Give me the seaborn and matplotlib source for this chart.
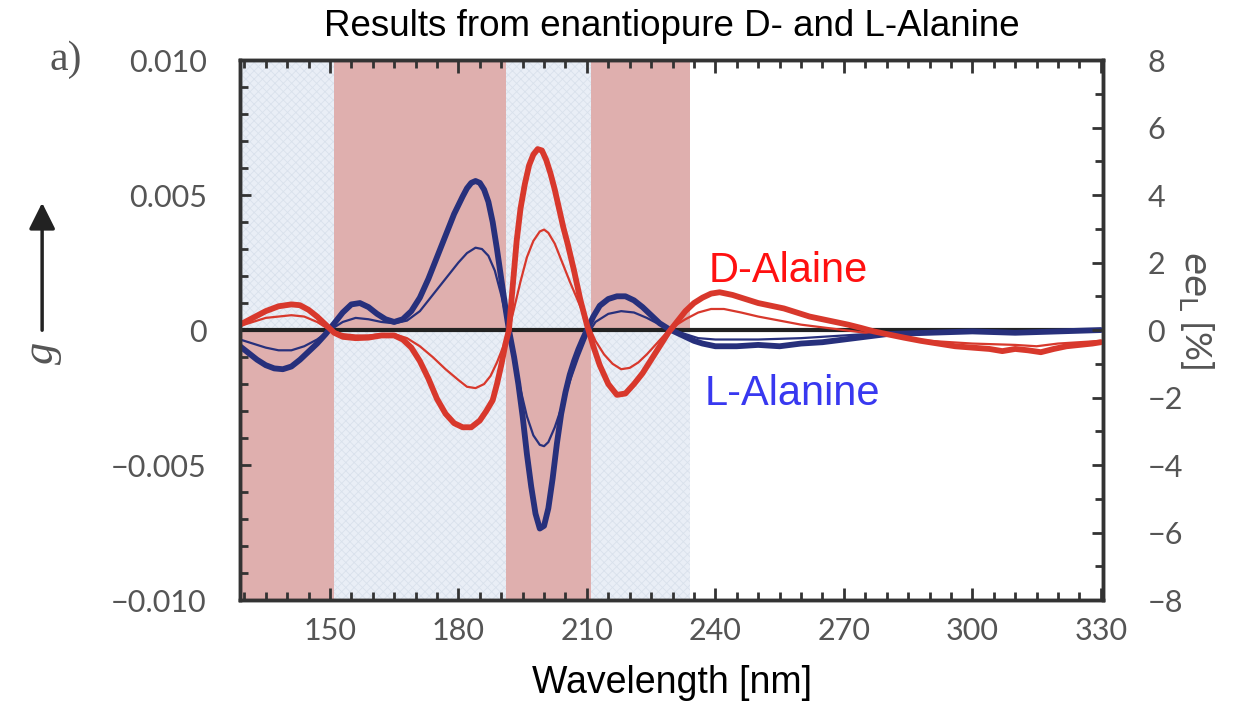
import numpy as np
import pandas as pd
import matplotlib
matplotlib.use("Agg")
import matplotlib.pyplot as plt
from matplotlib.ticker import MultipleLocator, FuncFormatter, FixedLocator
import seaborn as sns

# ---------------- data (g in units of 1e-3) ----------------
wl_L_thick = [129, 131, 133, 135, 137, 139, 141, 143, 145, 147, 149, 151, 153, 155, 157, 159, 161, 163, 165,
              167, 169, 171, 173, 175, 177, 179, 181, 182, 183, 184, 185, 186, 187, 188, 189, 190, 191,
              191.8, 193, 194, 195, 196, 197, 198, 199, 200, 201, 202, 203, 204, 205, 206, 207, 208, 209,
              210, 211.5, 213, 215, 217, 219, 221, 223, 225, 227, 229, 231, 233, 235, 237, 240, 245, 250,
              255, 260, 265, 270, 275, 280, 290, 300, 310, 320, 330]
g_L_thick = [-0.6, -0.85, -1.1, -1.3, -1.42, -1.45, -1.35, -1.1, -0.8, -0.5, -0.15, 0.25, 0.65, 0.95, 1.0,
             0.85, 0.6, 0.4, 0.3, 0.4, 0.7, 1.2, 1.9, 2.7, 3.5, 4.3, 4.95, 5.25, 5.45, 5.52, 5.45, 5.2, 4.75,
             4.0, 3.0, 1.9, 0.8, 0.0, -1.0, -2.0, -3.2, -4.6, -5.8, -6.8, -7.35, -7.25, -6.6, -5.5, -4.2, -3.1,
             -2.3, -1.65, -1.15, -0.72, -0.35, 0.0, 0.5, 0.9, 1.15, 1.25, 1.25, 1.1, 0.85, 0.55, 0.25, 0.05,
             -0.1, -0.25, -0.4, -0.5, -0.6, -0.6, -0.55, -0.6, -0.5, -0.45, -0.35, -0.25, -0.15, -0.1, -0.05,
             -0.1, -0.05, 0.0]

wl_D_thick = [129, 132, 135, 138, 141, 143, 145, 147, 149, 151, 153, 156, 159, 162, 165, 167, 169, 171, 173,
              175, 177, 179, 181, 183, 185, 186.5, 188, 189, 190, 191, 191.8, 192.5, 193.6, 194.5, 195.5,
              196.5, 197.5, 198.5, 199.5, 200.5, 201.5, 202.5, 203.5, 204.5, 205.5, 207, 208.5, 210, 211.5,
              213, 215, 217, 219, 221, 223, 225, 227, 229, 231, 233, 235, 237, 239, 241, 244, 247, 250, 253,
              256, 259, 262, 265, 268, 271, 274, 277, 280, 284, 288, 292, 296, 300, 304, 307, 310, 313, 316,
              319, 322, 325, 328, 330]
g_D_thick = [0.2, 0.45, 0.7, 0.88, 0.95, 0.92, 0.75, 0.5, 0.2, -0.1, -0.25, -0.3, -0.28, -0.2, -0.2, -0.35,
             -0.65, -1.15, -1.8, -2.55, -3.1, -3.45, -3.6, -3.6, -3.35, -3.0, -2.6, -2.0, -1.3, -0.5, 0.0,
             1.3, 3.3, 4.5, 5.4, 6.1, 6.5, 6.7, 6.65, 6.3, 5.8, 5.2, 4.5, 3.8, 3.2, 2.2, 1.1, 0.2, -0.6, -1.3,
             -2.0, -2.4, -2.35, -2.0, -1.6, -1.1, -0.6, -0.1, 0.3, 0.7, 1.0, 1.2, 1.35, 1.4, 1.3, 1.15, 1.0,
             0.9, 0.8, 0.65, 0.5, 0.4, 0.3, 0.2, 0.08, -0.05, -0.15, -0.28, -0.4, -0.5, -0.6, -0.65, -0.7,
             -0.78, -0.7, -0.75, -0.82, -0.7, -0.6, -0.55, -0.5, -0.45]

wl_L_thin = [129, 132, 135, 138, 141, 144, 147, 150, 153, 156, 159, 162, 165, 168, 171, 174, 177, 180, 182,
             184, 185.5, 187, 188.5, 190, 191.8, 193, 194.5, 196, 197.5, 199, 200, 201, 202.5, 204, 206, 208,
             210, 212, 215, 218, 221, 224, 227, 230, 233, 236, 240, 250, 260, 270, 280, 290, 300, 315, 330]
g_L_thin = [-0.35, -0.5, -0.65, -0.75, -0.75, -0.6, -0.35, 0.0, 0.3, 0.45, 0.4, 0.3, 0.25, 0.35, 0.7, 1.3,
            1.9, 2.5, 2.85, 3.05, 3.0, 2.75, 2.2, 1.3, 0.0, -1.0, -2.2, -3.2, -3.9, -4.25, -4.3, -4.15, -3.6,
            -2.9, -1.9, -1.0, -0.2, 0.3, 0.6, 0.7, 0.65, 0.45, 0.2, 0.0, -0.15, -0.3, -0.35, -0.35, -0.3,
            -0.2, -0.1, -0.05, -0.05, -0.05, 0.0]

wl_D_thin = [129, 132, 135, 138, 141, 144, 147, 150, 153, 156, 159, 162, 165, 168, 171, 174, 177, 180, 182,
             184, 186, 187.5, 189, 190.5, 191.8, 193, 194.5, 196, 197.5, 199, 200, 201, 202.5, 204, 206, 208,
             210, 212, 214, 216, 218, 220, 222, 224, 226, 228, 230, 233, 236, 239, 242, 246, 250, 255, 260,
             265, 270, 275, 280, 290, 300, 310, 315, 320, 325, 330]
g_D_thin = [0.15, 0.3, 0.45, 0.5, 0.55, 0.5, 0.3, 0.0, -0.15, -0.2, -0.2, -0.15, -0.15, -0.3, -0.6, -1.0,
            -1.45, -1.85, -2.1, -2.15, -2.0, -1.7, -1.2, -0.6, 0.0, 0.8, 1.8, 2.7, 3.3, 3.65, 3.72, 3.6, 3.2,
            2.6, 1.8, 1.05, 0.3, -0.4, -0.9, -1.25, -1.45, -1.4, -1.2, -0.9, -0.55, -0.2, 0.1, 0.4, 0.65, 0.78,
            0.78, 0.65, 0.5, 0.35, 0.2, 0.1, 0.0, -0.1, -0.2, -0.4, -0.5, -0.55, -0.6, -0.5, -0.45, -0.4]

band_edges = [129, 151, 191, 211, 234]
band_upper_colors = ["lightblue", "pink", "lightblue", "pink"]   # above g = 0
band_lower_colors = ["pink", "lightblue", "pink", "lightblue"]   # below g = 0

x_tick_labels = [150, 180, 210, 240, 270, 300, 330]
right_ticks = [-8, -6, -4, -2, 0, 2, 4, 6, 8]

# ---------------- style ----------------
sns.set_theme(style="white")
plt.rcParams['font.family'] = ['Lato', 'DejaVu Sans']
plt.rcParams['hatch.linewidth'] = 0.6

PINK = "#dfafae"
LBLUE = "#e9eef6"
NAVY = "#27307c"
RED = "#d8382c"
GRAY = "#555555"

fig = plt.figure(figsize=(12.39, 7.06), dpi=100)
ax = fig.add_axes([0.1937, 0.150, 0.8902 - 0.1937, 0.915 - 0.150])
ax.set_xlim(129, 330.5)
ax.set_ylim(-0.010, 0.010)

# bands
for i in range(len(band_edges) - 1):
    x0, x1 = band_edges[i], band_edges[i + 1]
    for col, (y0, y1) in ((band_upper_colors[i], (0, 0.010)), (band_lower_colors[i], (-0.010, 0))):
        if col == "pink":
            ax.fill_between([x0, x1], y0, y1, color=PINK, lw=0, zorder=0)
        else:
            ax.fill_between([x0, x1], y0, y1, facecolor=LBLUE, edgecolor="#d9e1ec",
                            hatch="xxxx", lw=0, zorder=0)

ax.axhline(0, color="#222222", lw=3, zorder=2)

def draw(wl, g, color, lw):
    df = pd.DataFrame({"wl": wl, "g": np.array(g) * 1e-3})
    sns.lineplot(data=df, x="wl", y="g", ax=ax, color=color, lw=lw, zorder=3,
                 estimator=None, sort=False, solid_joinstyle="round", solid_capstyle="round")

draw(wl_L_thin, g_L_thin, NAVY, 1.6)
draw(wl_D_thin, g_D_thin, RED, 1.6)
draw(wl_L_thick, g_L_thick, NAVY, 4.2)
draw(wl_D_thick, g_D_thick, RED, 4.2)

ax.set_xlabel("")
ax.set_ylabel("")

# ticks
ax.xaxis.set_major_locator(FixedLocator(x_tick_labels))
ax.xaxis.set_minor_locator(MultipleLocator(5))
ax.yaxis.set_major_locator(FixedLocator([-0.010, -0.005, 0, 0.005, 0.010]))
ax.yaxis.set_minor_locator(MultipleLocator(0.001))
ax.yaxis.set_major_formatter(FuncFormatter(
    lambda v, p: "0" if abs(v) < 1e-12 else ("\u2212%.3f" % abs(v) if v < 0 else "%.3f" % v)))
ax.tick_params(axis="x", which="major", direction="in", length=9, width=2, top=True, bottom=True,
               labelsize=22, labelcolor=GRAY, pad=12, color="#333333")
ax.tick_params(axis="x", which="minor", direction="in", length=6, width=2, top=True, bottom=True,
               color="#333333")
ax.tick_params(axis="y", which="major", direction="in", length=8, width=2, left=True, right=False,
               labelsize=22, labelcolor=GRAY, pad=24, color="#333333")
ax.tick_params(axis="y", which="minor", direction="in", length=6, width=2, left=True, right=False,
               color="#333333")
for s in ax.spines.values():
    s.set_color("#333333")
    s.set_linewidth(2.5)
    s.set_visible(True)

ax2 = ax.twinx()
ax2.set_ylim(-8, 8)
ax2.yaxis.set_major_locator(FixedLocator(right_ticks))
ax2.yaxis.set_minor_locator(MultipleLocator(1))
ax2.yaxis.set_major_formatter(FuncFormatter(lambda v, p: ("\u2212%d" % abs(v)) if v < 0 else "%d" % v))
ax2.tick_params(axis="y", which="major", direction="in", length=8, width=2, labelsize=22,
                labelcolor=GRAY, pad=32, color="#333333")
ax2.tick_params(axis="y", which="minor", direction="in", length=6, width=2, color="#333333")
for s in ax2.spines.values():
    s.set_color("#333333")
    s.set_linewidth(2.5)
ax2.grid(False)
ax.grid(False)

# texts
ax.text(238.5, 0.0022, "D-Alaine", color="#ff1010", fontsize=30, va="center", ha="left",
        family=["Liberation Sans", "DejaVu Sans"], zorder=5)
ax.text(237.5, -0.00237, "L-Alanine", color="#3838f0", fontsize=30, va="center", ha="left",
        family=["Liberation Sans", "DejaVu Sans"], zorder=5)

fig.text(0.542, 0.962, "Results from enantiopure D- and L-Alanine", ha="center", va="center",
         fontsize=26.5, color="black", family=["Liberation Sans", "DejaVu Sans"])
fig.text(0.542, 0.033, "Wavelength [nm]", ha="center", va="center", fontsize=27, color="black",
         family=["Liberation Sans", "DejaVu Sans"])
fig.text(0.053, 0.915, "a)", ha="center", va="center", fontsize=30, color=GRAY,
         family=["Liberation Serif", "DejaVu Serif"])
fig.text(0.034, 0.500, "g", ha="center", va="center", fontsize=32, color=GRAY, rotation=90,
         style="italic", family=["Liberation Serif", "DejaVu Serif"])
fig.patches.append(matplotlib.patches.FancyArrowPatch(
    (0.034, (706 - 333) / 706), (0.034, (706 - 200) / 706), transform=fig.transFigure,
    arrowstyle="-|>,head_length=10,head_width=5", color="#222222", lw=2.5, mutation_scale=1.6))
fig.text(0.966, 0.56, r"$ee_{\mathrm{L}}$ [%]", ha="center", va="center", fontsize=26, color=GRAY,
         rotation=270, family=["Lato", "DejaVu Sans"])

fig.savefig("out.png", dpi=100)
